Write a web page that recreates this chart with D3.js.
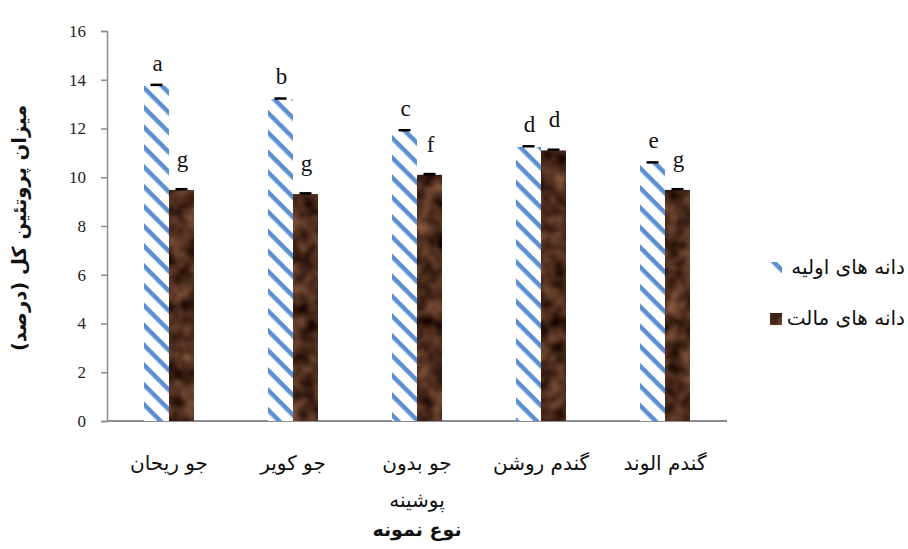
<!DOCTYPE html>
<html>
<head>
<meta charset="utf-8">
<script src="https://cdn.jsdelivr.net/npm/d3@7"></script>
<style>
  body { margin: 0; background: #fff; }
  svg { display: block; }
</style>
</head>
<body>
<svg id="chart" width="908" height="549"></svg>
<script>
// Sample types (left to right) and protein content (%) for raw and malted grain
const categories = ["جو ریحان", "جو کویر", "جو بدون پوشینه", "گندم روشن", "گندم الوند"];
const rawGrain = [13.76, 13.2, 11.9, 11.24, 10.58];
const maltGrain = [9.48, 9.31, 10.1, 11.1, 9.48];
const rawError = [0.03, 0.03, 0.03, 0.03, 0.03];
const maltError = [0.03, 0.03, 0.03, 0.03, 0.03];
const rawLetters = ["a", "b", "c", "d", "e"];
const maltLetters = ["g", "g", "f", "d", "g"];
const seriesNames = ["دانه های اولیه", "دانه های مالت"];
const yTicks = [0, 2, 4, 6, 8, 10, 12, 14, 16];

const svg = d3.select("#chart");
const margin = { left: 107, right: 181, top: 31, bottom: 128 };
const W = 908, H = 549;

const x = d3.scaleBand().domain(categories).range([margin.left, W - margin.right]);
const y = d3.scaleLinear().domain([0, 16]).range([H - margin.bottom, margin.top]);
const barW = 25;

// ---- fills: blue diagonal hatch and brown mottled texture ----
const defs = svg.append("defs");
const hatch = defs.append("pattern")
  .attr("id", "hatch").attr("patternUnits", "userSpaceOnUse")
  .attr("width", 14).attr("height", 14)
  .attr("patternTransform", "rotate(45)");
hatch.append("rect").attr("width", 14).attr("height", 14).attr("fill", "#fff");
hatch.append("rect").attr("width", 14).attr("height", 4.5).attr("fill", "#5b8fd2");

const tex = defs.append("filter").attr("id", "malt")
  .attr("x", 0).attr("y", 0).attr("width", 1).attr("height", 1)
  .attr("color-interpolation-filters", "sRGB");
tex.append("feTurbulence").attr("type", "fractalNoise")
  .attr("baseFrequency", 0.06).attr("numOctaves", 2).attr("seed", 7).attr("result", "n");
tex.append("feColorMatrix").attr("in", "n").attr("type", "matrix")
  .attr("values",
    "0.6 0 0 0 0.0  0.45 0 0 0 -0.05  0.35 0 0 0 -0.06  0 0 0 0 1")
  .attr("result", "c");
tex.append("feComposite").attr("in", "c").attr("in2", "SourceGraphic").attr("operator", "in");

// ---- axes ----
const axisColor = "#8c8c8c";
const yAxis = svg.append("g")
  .attr("transform", `translate(${margin.left},0)`)
  .call(d3.axisLeft(y).tickValues(yTicks).tickSize(6).tickPadding(15));
yAxis.select(".domain").attr("stroke", axisColor).attr("stroke-width", 1.5);
yAxis.selectAll(".tick line").attr("stroke", axisColor).attr("stroke-width", 1.5);
yAxis.selectAll(".tick text")
  .attr("font-family", "'Liberation Serif', serif").attr("font-size", 17).attr("fill", "#222");

svg.append("line")
  .attr("x1", margin.left).attr("x2", W - margin.right)
  .attr("y1", y(0)).attr("y2", y(0))
  .attr("stroke", axisColor).attr("stroke-width", 2);

// ---- bars ----
const groups = svg.append("g").selectAll("g").data(categories).join("g");

groups.append("rect")
  .attr("x", d => x(d) + x.bandwidth() / 2 - barW)
  .attr("width", barW)
  .attr("y", (d, i) => y(rawGrain[i]))
  .attr("height", (d, i) => y(0) - y(rawGrain[i]))
  .attr("fill", "url(#hatch)");

groups.append("rect")
  .attr("x", d => x(d) + x.bandwidth() / 2)
  .attr("width", barW)
  .attr("y", (d, i) => y(maltGrain[i]))
  .attr("height", (d, i) => y(0) - y(maltGrain[i]))
  .attr("fill", "#4a2e1d")
  .attr("filter", "url(#malt)");

// error caps
groups.append("line")
  .attr("x1", d => x(d) + x.bandwidth() / 2 - barW / 2 - 6)
  .attr("x2", d => x(d) + x.bandwidth() / 2 - barW / 2 + 6)
  .attr("y1", (d, i) => y(rawGrain[i] + rawError[i]))
  .attr("y2", (d, i) => y(rawGrain[i] + rawError[i]))
  .attr("stroke", "#000").attr("stroke-width", 2.5);
groups.append("line")
  .attr("x1", d => x(d) + x.bandwidth() / 2 + barW / 2 - 6)
  .attr("x2", d => x(d) + x.bandwidth() / 2 + barW / 2 + 6)
  .attr("y1", (d, i) => y(maltGrain[i] + maltError[i]))
  .attr("y2", (d, i) => y(maltGrain[i] + maltError[i]))
  .attr("stroke", "#000").attr("stroke-width", 2.5);

// significance letters
const letterFont = "'Liberation Serif', serif";
groups.append("text")
  .attr("x", d => x(d) + x.bandwidth() / 2 - barW / 2 + 1)
  .attr("y", (d, i) => y(rawGrain[i]) - 15)
  .attr("text-anchor", "middle")
  .attr("font-family", letterFont).attr("font-size", 23).attr("fill", "#111")
  .text((d, i) => rawLetters[i]);
groups.append("text")
  .attr("x", d => x(d) + x.bandwidth() / 2 + barW / 2 + 1)
  .attr("y", (d, i) => y(maltGrain[i]) - 23)
  .attr("text-anchor", "middle")
  .attr("font-family", letterFont).attr("font-size", 23).attr("fill", "#111")
  .text((d, i) => maltLetters[i]);

// ---- category labels (third one wraps onto two lines) ----
const persianFont = "'DejaVu Sans', serif";
groups.each(function(d) {
  const words = d.split(" ");
  const lines = words.length > 2 ? [words.slice(0, 2).join(" "), words.slice(2).join(" ")] : [d];
  const t = d3.select(this).append("text")
    .attr("x", x(d) + x.bandwidth() / 2)
    .attr("y", 470)
    .attr("text-anchor", "middle")
    .attr("direction", "rtl")
    .attr("font-family", persianFont).attr("font-size", 20).attr("fill", "#111");
  lines.forEach((ln, k) => {
    t.append("tspan").attr("x", x(d) + x.bandwidth() / 2).attr("dy", k ? 37 : 0).text(ln);
  });
});

// ---- axis titles ----
svg.append("text")
  .attr("x", x(categories[2]) + x.bandwidth() / 2).attr("y", 536)
  .attr("text-anchor", "middle").attr("direction", "rtl")
  .attr("font-family", persianFont).attr("font-weight", "bold")
  .attr("font-size", 19).attr("fill", "#111")
  .text("نوع نمونه");

svg.append("text")
  .attr("transform", `translate(26,${(y(0) + y(16)) / 2 + 2}) rotate(-90)`)
  .attr("text-anchor", "middle").attr("direction", "rtl")
  .attr("font-family", persianFont).attr("font-weight", "bold")
  .attr("font-size", 19.5).attr("fill", "#111")
  .text("میزان پروتئین کل (درصد)");

// ---- legend ----
const legend = svg.append("g");
const legendRows = [
  { name: seriesNames[0], fill: "url(#hatch)", filter: null, y: 268 },
  { name: seriesNames[1], fill: "#4a2e1d", filter: "url(#malt)", y: 319 }
];
legendRows.forEach(r => {
  legend.append("rect")
    .attr("x", 770).attr("y", r.y - 6).attr("width", 12).attr("height", 12)
    .attr("fill", r.fill).attr("filter", r.filter);
  legend.append("text")
    .attr("x", 905).attr("y", r.y + 6)
    .attr("text-anchor", "start").attr("direction", "rtl")
    .attr("font-family", persianFont).attr("font-size", 20).attr("fill", "#111")
    .text(r.name);
});
</script>
</body>
</html>
